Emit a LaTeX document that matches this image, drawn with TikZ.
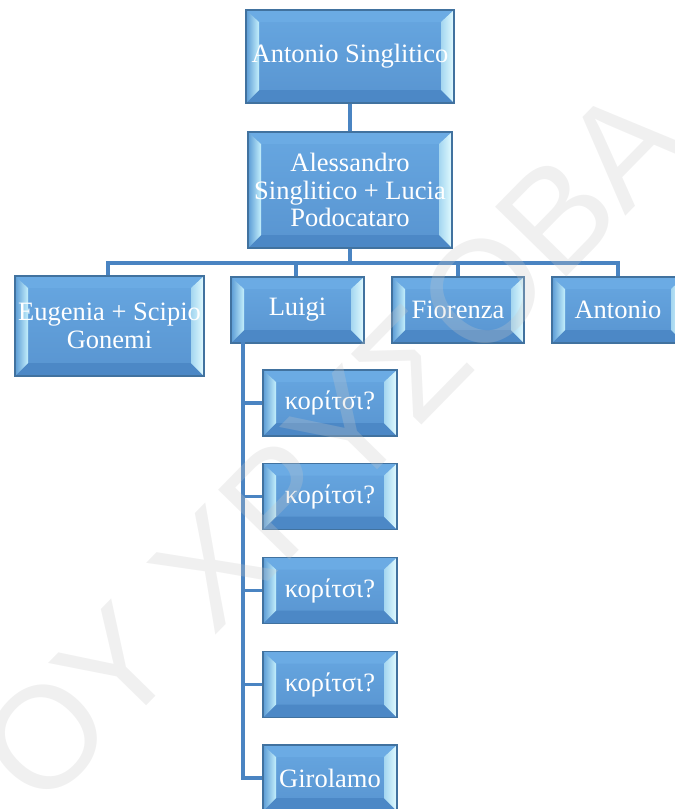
\documentclass[tikz,border=0pt]{standalone}
\usepackage{fontspec}
\setmainfont{Liberation Serif}
\newfontfamily\wmfont{Liberation Sans}
\definecolor{boxedge}{HTML}{41729F}
\definecolor{facetop}{HTML}{67A7E1}
\definecolor{facebot}{HTML}{5894D0}
\definecolor{bevtop}{HTML}{6BABE4}
\definecolor{bevbot}{HTML}{4C88C6}
\definecolor{bevout}{HTML}{5B9BD5}
\definecolor{bevin}{HTML}{C4F0FC}
\definecolor{bevright}{HTML}{E2FBFF}
\definecolor{linkblue}{HTML}{4A84C2}
\definecolor{wmgray}{RGB}{200,200,200}
\tikzset{
  box/.style={rectangle, draw=boxedge, line width=1.2pt, inner sep=0pt,
    text=white, align=center, font=\fontsize{26.5}{27.5}\selectfont,
    top color=facetop, bottom color=facebot,
    path picture={
      \coordinate (bnw) at (path picture bounding box.north west);
      \coordinate (bne) at (path picture bounding box.north east);
      \coordinate (bse) at (path picture bounding box.south east);
      \coordinate (bsw) at (path picture bounding box.south west);
      \coordinate (inw) at ([shift={(13pt,-12pt)}]bnw);
      \coordinate (ine) at ([shift={(-13pt,-12pt)}]bne);
      \coordinate (ise) at ([shift={(-13pt,13pt)}]bse);
      \coordinate (isw) at ([shift={(13pt,13pt)}]bsw);
      \fill[bevtop] (bnw) -- (bne) -- (ine) -- (inw) -- cycle;
      \fill[bevbot] (bsw) -- (bse) -- (ise) -- (isw) -- cycle;
      \shade[left color=bevout, right color=bevin] (bnw) -- (inw) -- (isw) -- (bsw) -- cycle;
      \shade[left color=bevin!70!bevout, right color=bevright] (bne) -- (ine) -- (ise) -- (bse) -- cycle;
    }},
  link/.style={draw=linkblue, line width=3.4pt}
}
\begin{document}
\begin{tikzpicture}[x=1pt, y=-1pt]
\useasboundingbox (0,0) rectangle (675,809);

\coordinate (bus) at (350,263);
\coordinate (lspine) at (243,342);

\node (top) at (350,56.5)[box, minimum width=208, minimum height=93]{Antonio Singlitico};
\node (ales) at (350,190)[box, minimum width=204, minimum height=116]{Alessandro\\Singlitico + Lucia\\Podocataro};

\node (eug) at (109.5,326)[box, minimum width=189, minimum height=100]{Eugenia + Scipio\\Gonemi};
\node (luigi) at (297.5,310)[box, minimum width=133, minimum height=66]{Luigi};
\node (fior) at (458,310)[box, minimum width=132, minimum height=66]{Fiorenza};
\node (anto) at (618,310)[box, minimum width=132, minimum height=66]{Antonio};

\foreach \y [count=\i] in {403,496.5,590.5,684.5}
  \node (kor\i) at (330,\y)[box, minimum width=134, minimum height=66]{κορίτσι?};
\node (giro) at (330,778)[box, minimum width=134, minimum height=66]{Girolamo};

\begin{scope}[on background layer/.try]
\draw[link] (top) -- (ales);
\draw[link] (ales) -- (bus);
\foreach \c/\x in {eug/108,luigi/296,fior/458,anto/618}
  \draw[link] (bus) -| (\x,263) -- (\c.north -| \x,0);
\foreach \k in {kor1,kor2,kor3,kor4,giro}
  \draw[link] (lspine) |- (\k.west);
\end{scope}

\begin{scope}
\clip (0,0) rectangle (675,809);
\node (mark) at (332,445)[rotate=45.6, inner sep=0pt, text=wmgray, text opacity=0.27,
  font=\wmfont\fontsize{145}{145}\selectfont]{ΟΥ ΧΡΥΣΟΒΑ};
\end{scope}
\end{tikzpicture}
\end{document}
